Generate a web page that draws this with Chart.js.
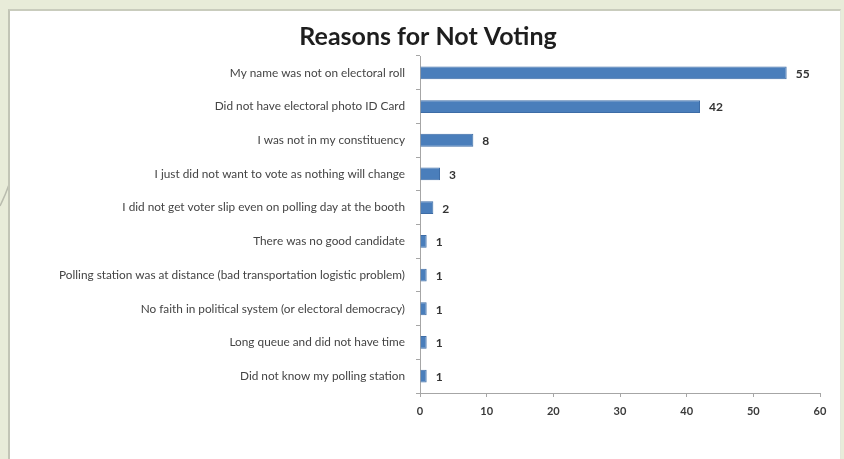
<!DOCTYPE html>
<html>
<head>
<meta charset="utf-8">
<script src="https://cdn.jsdelivr.net/npm/chart.js@4/dist/chart.umd.min.js"></script>
<style>
  html, body { margin: 0; padding: 0; }
  body {
    width: 844px; height: 459px; overflow: hidden; position: relative;
    background: #e8ecd9;
  }
  #panel {
    position: absolute; left: 8px; top: 9px; width: 830px; height: 452px;
    background: #ffffff;
    border-left: 2px solid #c2c5b6; border-top: 2px solid #c9ccbd;
    border-right: 1px solid #e4e6dc;
  }
  #deco { position: absolute; left: 0; top: 0; }
  #chart { position: absolute; left: 0; top: 0; }
</style>
</head>
<body>
<svg id="deco" width="12" height="459">
  <path d="M0 206 Q5 196 10 182" stroke="#b9bcae" stroke-width="1.5" fill="none"/>
</svg>
<div id="panel"></div>
<canvas id="chart" width="844" height="459"></canvas>
<script>
// Survey answers, listed top to bottom
const reasons = [
  'My name was not on electoral roll',
  'Did not have electoral photo ID Card',
  'I was not in my constituency',
  'I just did not want to vote as nothing will change',
  'I did not get voter slip even on polling day at the booth',
  'There was no good candidate',
  'Polling station was at distance (bad transportation logistic problem)',
  'No faith in political system (or electoral democracy)',
  'Long queue and did not have time',
  'Did not know my polling station'
];
const respondents = [55, 42, 8, 3, 2, 1, 1, 1, 1, 1];
const axisTicks = [0, 10, 20, 30, 40, 50, 60];

const labelFont = 'Lato, "Open Sans", sans-serif';

// Writes each bar's count just past its end
const barValues = {
  id: 'barValues',
  afterDatasetsDraw(chart) {
    const ctx = chart.ctx;
    const xScale = chart.scales.x;
    const meta = chart.getDatasetMeta(0);
    ctx.save();
    ctx.font = 'bold 12px ' + labelFont;
    ctx.fillStyle = '#333333';
    ctx.textBaseline = 'middle';
    ctx.textAlign = 'left';
    meta.data.forEach((bar, i) => {
      const v = chart.data.datasets[0].data[i];
      ctx.fillText(String(v), xScale.getPixelForValue(v) + 9, bar.y + 1);
    });
    ctx.restore();
  }
};

new Chart(document.getElementById('chart'), {
  type: 'bar',
  data: {
    labels: reasons,
    datasets: [{
      data: respondents,
      backgroundColor: '#4a7ebb',
      borderColor: '#3d6ca6',
      borderWidth: 1,
      categoryPercentage: 1,
      barPercentage: 0.38
    }]
  },
  options: {
    indexAxis: 'y',
    responsive: false,
    devicePixelRatio: 1,
    animation: false,
    layout: { padding: { top: 18, left: 36, right: 24, bottom: 0 } },
    plugins: {
      legend: { display: false },
      tooltip: { enabled: false },
      title: {
        display: true,
        text: 'Reasons for Not Voting',
        color: '#1e1e1e',
        font: { family: labelFont, size: 25, weight: 'bold' },
        padding: { top: 4, bottom: 4 }
      }
    },
    scales: {
      x: {
        min: 0, max: 60,
        afterBuildTicks(scale) { scale.ticks = axisTicks.map(v => ({ value: v })); },
        afterFit(scale) { scale.height = 66; },
        border: { color: '#a6a6a6', width: 1 },
        grid: { drawOnChartArea: false, tickLength: 4, color: '#a6a6a6' },
        ticks: {
          color: '#3a3a3a', padding: 8,
          font: { family: labelFont, size: 11, weight: 'bold' }
        }
      },
      y: {
        afterFit(scale) { scale.width = 384; },
        border: { color: '#a6a6a6', width: 1 },
        grid: { drawOnChartArea: false, tickLength: 4, color: '#a6a6a6' },
        ticks: {
          color: '#444444', padding: 11, autoSkip: false,
          font: { family: labelFont, size: 11.8 }
        }
      }
    }
  },
  plugins: [barValues]
});
</script>
</body>
</html>
